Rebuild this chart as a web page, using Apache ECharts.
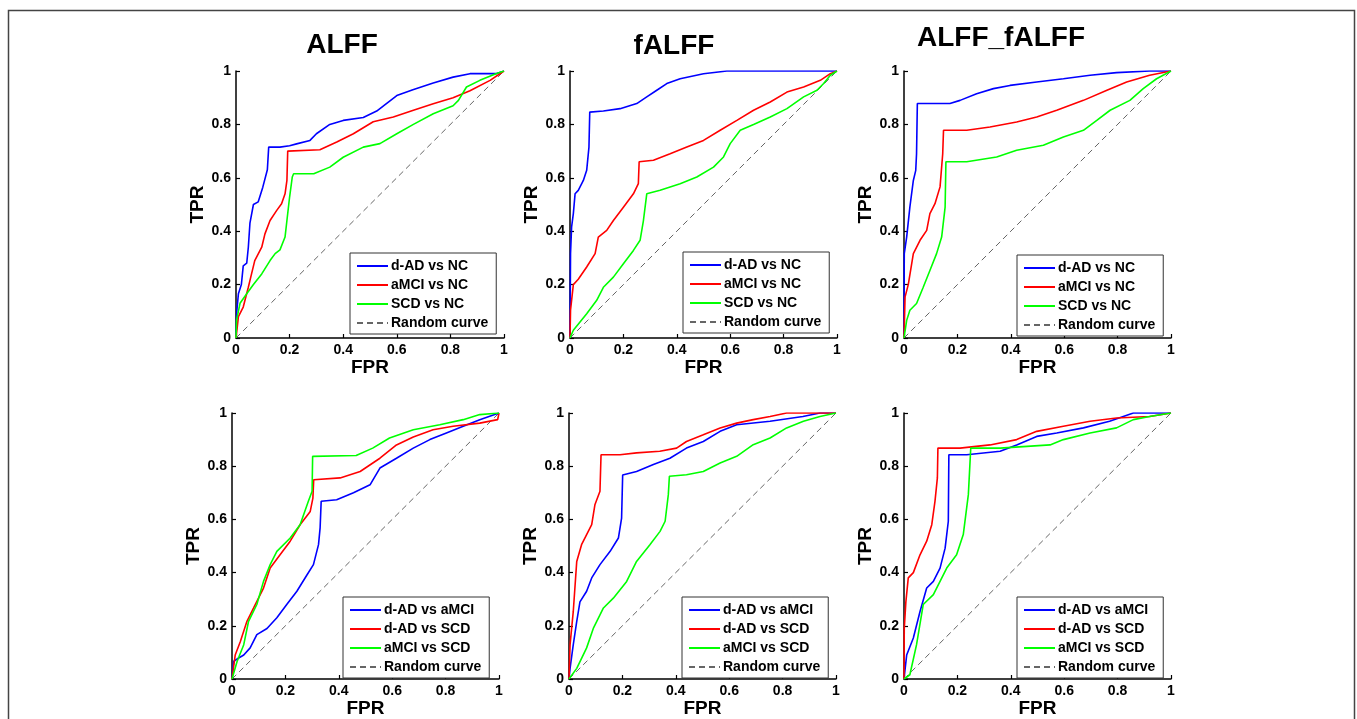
<!DOCTYPE html>
<html>
<head>
<meta charset="utf-8">
<title>ROC curves</title>
<script src="https://cdn.jsdelivr.net/npm/echarts@6/dist/echarts.min.js"></script>
<style>
  html, body { margin: 0; padding: 0; background: #fff; }
  #chart { width: 1357px; height: 719px; }
</style>
</head>
<body>
<div id="chart"></div>
<script>
// Column titles (feature sets)
const panelTitles = ['ALFF', 'fALFF', 'ALFF_fALFF'];

// Legend labels
const topRowNames = ['d-AD vs NC', 'aMCI vs NC', 'SCD vs NC'];
const bottomRowNames = ['d-AD vs aMCI', 'd-AD vs SCD', 'aMCI vs SCD'];
const randomName = 'Random curve';

// Chance line
const randomCurve = [[0, 0], [1, 1]];

// ---- ALFF, patient groups vs NC: [FPR, TPR]
const alffAdNc = [[0,0],[0.003,0.1],[0.009,0.166],[0.02,0.2],[0.027,0.27],[0.04,0.28],[0.046,0.34],[0.052,0.43],[0.065,0.5],[0.083,0.51],[0.1,0.565],[0.117,0.63],[0.122,0.715],[0.164,0.715],[0.2,0.72],[0.226,0.727],[0.276,0.74],[0.3,0.765],[0.35,0.8],[0.4,0.815],[0.475,0.826],[0.525,0.85],[0.56,0.877],[0.6,0.908],[0.66,0.93],[0.736,0.955],[0.81,0.977],[0.873,0.99],[0.97,0.99],[1,1]];
const alffMciNc = [[0,0],[0.002,0.016],[0.009,0.08],[0.027,0.116],[0.046,0.19],[0.058,0.24],[0.07,0.29],[0.096,0.34],[0.108,0.39],[0.127,0.44],[0.152,0.478],[0.17,0.503],[0.183,0.54],[0.19,0.59],[0.193,0.7],[0.313,0.705],[0.376,0.734],[0.438,0.765],[0.512,0.81],[0.587,0.828],[0.662,0.853],[0.736,0.877],[0.81,0.9],[0.873,0.926],[0.948,0.965],[1,1]];
const alffScdNc = [[0,0],[0.002,0.066],[0.015,0.13],[0.04,0.166],[0.065,0.2],[0.096,0.24],[0.127,0.29],[0.146,0.316],[0.164,0.33],[0.183,0.378],[0.19,0.44],[0.2,0.528],[0.21,0.603],[0.215,0.615],[0.29,0.615],[0.35,0.64],[0.4,0.677],[0.475,0.715],[0.537,0.728],[0.6,0.765],[0.662,0.8],[0.736,0.84],[0.81,0.87],[0.83,0.89],[0.86,0.94],[0.91,0.965],[0.97,0.99],[1,1]];

// ---- fALFF, patient groups vs NC
const falffAdNc = [[0,0],[0.002,0.316],[0.006,0.416],[0.0125,0.466],[0.019,0.54],[0.031,0.553],[0.05,0.59],[0.0625,0.628],[0.071,0.715],[0.074,0.846],[0.125,0.85],[0.1875,0.859],[0.25,0.878],[0.2875,0.903],[0.325,0.928],[0.3625,0.953],[0.4125,0.971],[0.5,0.99],[0.5875,1],[1,1]];
const falffMciNc = [[0,0],[0.002,0.104],[0.0125,0.2],[0.031,0.22],[0.0625,0.266],[0.094,0.316],[0.106,0.378],[0.1375,0.403],[0.1625,0.44],[0.2,0.49],[0.2375,0.54],[0.256,0.578],[0.259,0.66],[0.3125,0.666],[0.375,0.69],[0.4375,0.715],[0.5,0.74],[0.5625,0.778],[0.625,0.815],[0.6875,0.853],[0.75,0.884],[0.8125,0.921],[0.875,0.94],[0.9375,0.965],[0.975,0.99],[1,1]];
const falffScdNc = [[0,0],[0.0125,0.029],[0.0375,0.06],[0.0625,0.091],[0.1,0.141],[0.125,0.19],[0.1625,0.228],[0.2,0.278],[0.2375,0.328],[0.2625,0.366],[0.275,0.44],[0.2875,0.54],[0.3375,0.553],[0.4125,0.578],[0.475,0.603],[0.5375,0.64],[0.575,0.678],[0.6,0.728],[0.6375,0.778],[0.6875,0.8],[0.75,0.828],[0.8125,0.859],[0.875,0.903],[0.925,0.928],[0.95,0.953],[0.975,0.984],[1,1]];

// ---- ALFF_fALFF, patient groups vs NC
const comboAdNc = [[0,0],[0.001,0.316],[0.01,0.378],[0.022,0.49],[0.035,0.59],[0.044,0.628],[0.047,0.69],[0.05,0.878],[0.172,0.878],[0.21,0.89],[0.272,0.915],[0.335,0.934],[0.397,0.946],[0.497,0.959],[0.597,0.971],[0.697,0.984],[0.796,0.994],[0.92,1],[1,1]];
const comboMciNc = [[0,0],[0.004,0.154],[0.016,0.2],[0.035,0.316],[0.06,0.366],[0.085,0.403],[0.097,0.466],[0.116,0.503],[0.135,0.566],[0.145,0.69],[0.148,0.778],[0.235,0.778],[0.322,0.79],[0.422,0.809],[0.497,0.828],[0.572,0.853],[0.672,0.89],[0.76,0.928],[0.834,0.959],[0.92,0.984],[1,1]];
const comboScdNc = [[0,0],[0.01,0.066],[0.022,0.104],[0.047,0.129],[0.072,0.19],[0.097,0.253],[0.122,0.316],[0.141,0.378],[0.154,0.49],[0.157,0.66],[0.235,0.66],[0.347,0.678],[0.422,0.703],[0.522,0.722],[0.597,0.753],[0.672,0.778],[0.722,0.815],[0.772,0.853],[0.846,0.89],[0.896,0.934],[0.946,0.971],[1,1]];

// ---- ALFF, between patient groups
const alffAdMci = [[0,0],[0.006,0.066],[0.025,0.079],[0.044,0.09],[0.068,0.117],[0.093,0.167],[0.131,0.19],[0.168,0.23],[0.205,0.28],[0.243,0.33],[0.28,0.39],[0.305,0.43],[0.324,0.505],[0.33,0.568],[0.334,0.668],[0.392,0.674],[0.455,0.7],[0.517,0.73],[0.554,0.793],[0.616,0.83],[0.679,0.868],[0.741,0.9],[0.803,0.925],[0.866,0.95],[0.928,0.975],[1,1]];
const alffAdScd = [[0,0],[0.012,0.09],[0.031,0.14],[0.056,0.217],[0.081,0.267],[0.118,0.342],[0.143,0.417],[0.18,0.467],[0.218,0.518],[0.255,0.58],[0.293,0.63],[0.303,0.68],[0.306,0.749],[0.405,0.756],[0.48,0.78],[0.554,0.83],[0.616,0.88],[0.679,0.91],[0.753,0.937],[0.828,0.95],[0.928,0.962],[0.995,0.975],[1,1]];
const alffMciScd = [[0,0],[0.019,0.066],[0.044,0.129],[0.062,0.217],[0.093,0.28],[0.118,0.367],[0.143,0.43],[0.168,0.48],[0.218,0.53],[0.255,0.58],[0.286,0.668],[0.3,0.706],[0.302,0.837],[0.465,0.84],[0.527,0.868],[0.59,0.906],[0.679,0.937],[0.778,0.956],[0.866,0.975],[0.928,0.994],[1,1]];

// ---- fALFF, between patient groups
const falffAdMci = [[0,0],[0.004,0.04],[0.016,0.129],[0.029,0.217],[0.041,0.29],[0.066,0.33],[0.085,0.38],[0.116,0.43],[0.154,0.48],[0.185,0.53],[0.197,0.605],[0.201,0.767],[0.253,0.78],[0.316,0.806],[0.378,0.83],[0.44,0.868],[0.503,0.893],[0.566,0.931],[0.628,0.956],[0.753,0.969],[0.876,0.987],[0.94,1],[1,1]];
const falffAdScd = [[0,0],[0.004,0.129],[0.016,0.254],[0.029,0.442],[0.047,0.505],[0.066,0.543],[0.085,0.58],[0.097,0.655],[0.116,0.706],[0.12,0.843],[0.191,0.843],[0.253,0.85],[0.34,0.856],[0.403,0.868],[0.44,0.893],[0.503,0.918],[0.566,0.944],[0.628,0.962],[0.69,0.975],[0.753,0.987],[0.815,1],[1,1]];
const falffMciScd = [[0,0],[0.029,0.04],[0.066,0.117],[0.091,0.19],[0.129,0.267],[0.166,0.304],[0.216,0.367],[0.253,0.442],[0.303,0.505],[0.341,0.555],[0.36,0.593],[0.372,0.693],[0.376,0.762],[0.44,0.768],[0.503,0.78],[0.566,0.812],[0.628,0.837],[0.69,0.881],[0.753,0.906],[0.815,0.944],[0.878,0.969],[0.94,0.987],[1,1]];

// ---- ALFF_fALFF, between patient groups
const comboAdMci = [[0,0],[0.01,0.09],[0.035,0.154],[0.06,0.254],[0.085,0.342],[0.11,0.367],[0.135,0.417],[0.154,0.492],[0.166,0.593],[0.168,0.843],[0.235,0.843],[0.36,0.856],[0.422,0.88],[0.497,0.912],[0.572,0.925],[0.672,0.944],[0.77,0.969],[0.859,1],[1,1]];
const comboAdScd = [[0,0],[0.001,0.19],[0.007,0.29],[0.016,0.38],[0.035,0.4],[0.06,0.467],[0.085,0.518],[0.104,0.58],[0.116,0.668],[0.125,0.756],[0.127,0.868],[0.21,0.868],[0.322,0.88],[0.422,0.9],[0.497,0.931],[0.597,0.95],[0.697,0.969],[0.796,0.981],[0.92,0.987],[1,1]];
const comboMciScd = [[0,0],[0.022,0.016],[0.047,0.129],[0.072,0.28],[0.11,0.317],[0.16,0.417],[0.197,0.467],[0.222,0.543],[0.241,0.693],[0.25,0.868],[0.36,0.868],[0.547,0.88],[0.597,0.9],[0.697,0.925],[0.796,0.944],[0.859,0.975],[0.92,0.987],[1,1]];

const FONT = '"Liberation Sans", Arial, Helvetica, sans-serif';
const curveColors = ['#0000ff', '#ff0000', '#00ff00'];

// Panel layout: plot rectangles in pixels and legend anchors
const panels = [
  { grid: [236, 71, 268, 267], legend: [350, 253], names: topRowNames,    curves: [alffAdNc, alffMciNc, alffScdNc] },
  { grid: [570, 71, 267, 267], legend: [683, 252], names: topRowNames,    curves: [falffAdNc, falffMciNc, falffScdNc] },
  { grid: [904, 71, 267, 267], legend: [1017, 255], names: topRowNames,   curves: [comboAdNc, comboMciNc, comboScdNc] },
  { grid: [232, 413, 267, 266], legend: [343, 597], names: bottomRowNames, curves: [alffAdMci, alffAdScd, alffMciScd] },
  { grid: [569, 413, 267, 266], legend: [682, 597], names: bottomRowNames, curves: [falffAdMci, falffAdScd, falffMciScd] },
  { grid: [904, 413, 267, 266], legend: [1017, 597], names: bottomRowNames, curves: [comboAdMci, comboAdScd, comboMciScd] }
];

const titlePos = [[342, 31], [674, 32], [1001, 24]];

const grids = [], xAxes = [], yAxes = [], legends = [], series = [];

function valueAxis(i, name, isX) {
  return {
    type: 'value',
    gridIndex: i,
    min: 0,
    max: 1,
    interval: 0.2,
    name: name,
    nameLocation: 'middle',
    nameGap: isX ? 18 : 27,
    nameTextStyle: { fontFamily: FONT, fontWeight: 'bold', fontSize: 19, color: '#000' },
    axisLine: { show: true, onZero: false, lineStyle: { color: '#000', width: 1.5 } },
    axisTick: { show: true, inside: true, length: 4, lineStyle: { color: '#000', width: 1.2 } },
    axisLabel: {
      show: true,
      margin: 5,
      fontFamily: FONT, fontWeight: 'bold', fontSize: 14, color: '#000',
      formatter: v => String(+v.toFixed(1))
    },
    splitLine: { show: false }
  };
}

panels.forEach((p, i) => {
  grids.push({ left: p.grid[0], top: p.grid[1], width: p.grid[2], height: p.grid[3], containLabel: false });
  xAxes.push(valueAxis(i, 'FPR', true));
  yAxes.push(valueAxis(i, 'TPR', false));

  p.curves.forEach((data, k) => {
    series.push({
      type: 'line',
      name: p.names[k],
      xAxisIndex: i,
      yAxisIndex: i,
      data: data,
      symbol: 'none',
      smooth: false,
      lineStyle: { color: curveColors[k], width: 1.6 },
      itemStyle: { color: curveColors[k] },
      z: 3 + k
    });
  });
  series.push({
    type: 'line',
    name: randomName,
    xAxisIndex: i,
    yAxisIndex: i,
    data: randomCurve,
    symbol: 'none',
    lineStyle: { color: '#666', width: 1, type: [6, 4] },
    itemStyle: { color: '#666' },
    z: 2
  });

  legends.push({
    show: true,
    orient: 'vertical',
    left: p.legend[0],
    top: p.legend[1],
    data: p.names.concat([randomName]),
    padding: [6, 8, 4, 6],
    itemGap: 5,
    itemWidth: 31,
    itemHeight: 14,
    selectedMode: false,
    // line-only keys: hide the marker that line series add to legend icons
    itemStyle: { opacity: 0 },
    backgroundColor: '#fff',
    borderColor: '#333',
    borderWidth: 1,
    borderRadius: 0,
    textStyle: { fontFamily: FONT, fontWeight: 'bold', fontSize: 14, color: '#000', padding: [0, 0, 0, -2] }
  });
});

const titles = panelTitles.map((t, i) => ({
  text: t,
  left: titlePos[i][0],
  top: titlePos[i][1],
  textAlign: 'center',
  padding: 0,
  textStyle: { fontFamily: FONT, fontWeight: 'bold', fontSize: 28, color: '#000' }
}));

const chart = echarts.init(document.getElementById('chart'), null, { renderer: 'canvas' });
chart.setOption({
  animation: false,
  backgroundColor: '#fff',
  title: titles,
  grid: grids,
  xAxis: xAxes,
  yAxis: yAxes,
  legend: legends,
  series: series,
  graphic: [{
    type: 'rect',
    shape: { x: 8.5, y: 10.5, width: 1346, height: 720 },
    style: { fill: 'none', stroke: '#444', lineWidth: 1.5 },
    silent: true,
    z: 100
  }]
});
</script>
</body>
</html>
